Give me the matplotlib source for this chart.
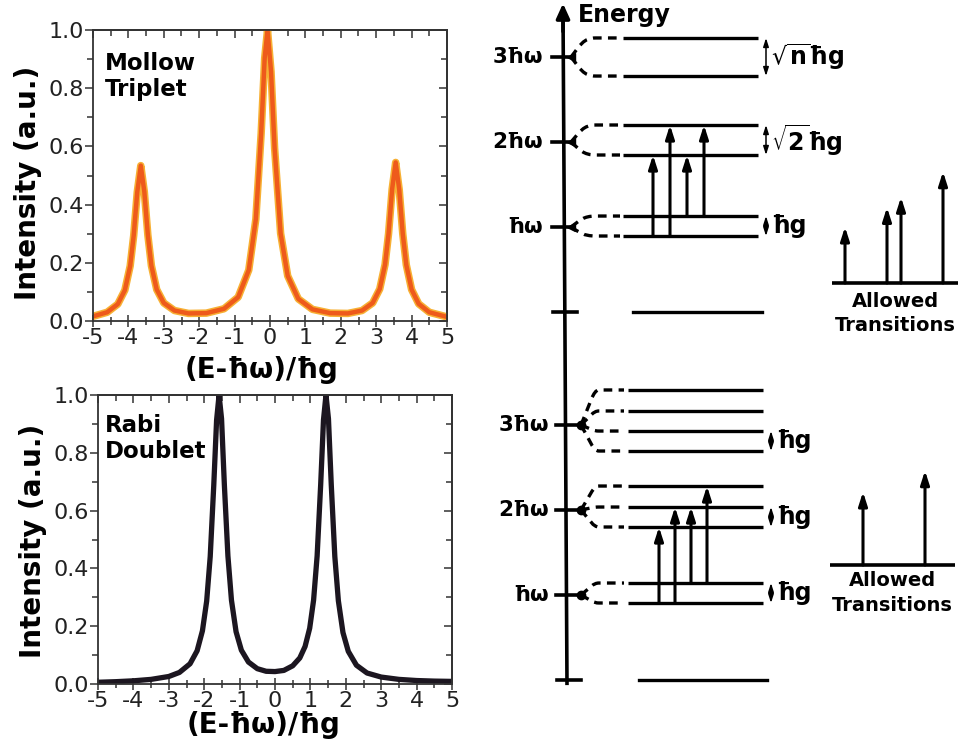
import matplotlib
matplotlib.use("Agg")
import matplotlib.pyplot as plt
from matplotlib.path import Path
from matplotlib.patches import PathPatch
from matplotlib.ticker import MultipleLocator, FormatStrFormatter

plt.rcParams['font.family'] = ['DejaVu Sans']
plt.rcParams['mathtext.fontset'] = 'dejavusans'
plt.rcParams['axes.unicode_minus'] = False

# ---------------- spectra ----------------
mollow_x = [-5.0, -4.6, -4.3, -4.1, -3.95, -3.85, -3.75, -3.65, -3.55, -3.45, -3.35,
            -3.2, -3.0, -2.7, -2.3, -1.8, -1.3, -0.9, -0.6, -0.4, -0.25, -0.15, -0.07,
            0.03, 0.13, 0.3, 0.5, 0.8, 1.2, 1.7, 2.2, 2.6, 2.9, 3.1, 3.25, 3.35, 3.45,
            3.55, 3.65, 3.75, 3.85, 4.0, 4.2, 4.5, 5.0]
mollow_y = [0.016, 0.030, 0.058, 0.106, 0.189, 0.294, 0.443, 0.534, 0.444, 0.295, 0.190,
            0.108, 0.062, 0.036, 0.026, 0.027, 0.042, 0.082, 0.175, 0.350, 0.644, 0.904, 1.0,
            0.856, 0.594, 0.301, 0.155, 0.076, 0.040, 0.027, 0.026, 0.036, 0.062, 0.110,
            0.194, 0.301, 0.453, 0.545, 0.452, 0.300, 0.193, 0.108, 0.059, 0.030, 0.014]

rabi_x = [-5.0, -4.5, -4.0, -3.5, -3.0, -2.7, -2.4, -2.2, -2.05, -1.93, -1.83, -1.73,
          -1.65, -1.58, -1.51, -1.43, -1.33, -1.23, -1.1, -0.95, -0.75, -0.5, -0.25, 0.0,
          0.25, 0.5, 0.7, 0.85, 0.98, 1.09, 1.19, 1.29, 1.37, 1.44, 1.51, 1.59, 1.69,
          1.79, 1.92, 2.07, 2.3, 2.6, 3.0, 3.5, 4.0, 4.5, 5.0]
rabi_y = [0.006, 0.008, 0.011, 0.016, 0.026, 0.040, 0.070, 0.115, 0.184, 0.287, 0.441,
          0.687, 0.913, 1.0, 0.918, 0.688, 0.443, 0.290, 0.181, 0.117, 0.076, 0.053,
          0.044, 0.043, 0.047, 0.063, 0.090, 0.130, 0.193, 0.290, 0.443, 0.689, 0.914,
          1.0, 0.918, 0.688, 0.441, 0.288, 0.178, 0.113, 0.065, 0.038, 0.024, 0.016,
          0.012, 0.010, 0.009]

x_ticks = [-5, -4, -3, -2, -1, 0, 1, 2, 3, 4, 5]
y_ticks = [0.0, 0.2, 0.4, 0.6, 0.8, 1.0]
x_label = "(E-ħω)/ħg"
y_label = "Intensity (a.u.)"
top_title = "Mollow\nTriplet"
bot_title = "Rabi\nDoublet"

# ---------------- energy ladders (units of ħω) ----------------
manifolds = [1, 2, 3]
manifold_labels = ["ħω", "2ħω", "3ħω"]

top_levels = [[0.894, 1.129], [1.847, 2.200], [2.776, 3.224]]
top_split_pairs = [[0.894, 1.129], [1.847, 2.200], [2.776, 3.224]]
top_split_labels = ["ħg", r"$\sqrt{\mathbf{2}}$ħg", r"$\sqrt{\mathbf{n}}$ħg"]
top_trans_from = [0.894, 0.894, 1.129, 1.129]
top_trans_to = [1.847, 2.200, 1.847, 2.200]
top_allowed_pos = [845, 887, 901, 943]
top_allowed_h = [0.66, 0.89, 1.01, 1.31]
top_allowed_base = 0.341

bot_levels = [[0.906, 1.141], [1.800, 2.035, 2.282], [2.694, 2.929, 3.165, 3.412]]
bot_split_pairs = [[0.906, 1.141], [1.800, 2.035], [2.694, 2.929]]
bot_split_labels = ["ħg", "ħg", "ħg"]
bot_trans_from = [0.906, 0.906, 1.141, 1.141]
bot_trans_to = [1.800, 2.035, 2.035, 2.282]
bot_allowed_pos = [863, 925]
bot_allowed_h = [0.86, 1.11]
bot_allowed_base = 1.353

# ---------------- figure ----------------
W, H = 965, 742
fig = plt.figure(figsize=(W / 100, H / 100), dpi=100)


def rect(l, t, r, b):
    return [l / W, 1 - b / H, (r - l) / W, (b - t) / H]


TICKC = '#333333'


def style_spec(ax):
    ax.set_xlim(-5, 5)
    ax.set_ylim(0, 1.0)
    ax.set_xticks(x_ticks)
    ax.set_yticks(y_ticks)
    ax.xaxis.set_minor_locator(MultipleLocator(0.5))
    ax.yaxis.set_minor_locator(MultipleLocator(0.1))
    ax.yaxis.set_major_formatter(FormatStrFormatter('%.1f'))
    ax.tick_params(axis='y', which='both', direction='out', labelsize=16, pad=0.5,
                   width=1.1, color=TICKC, labelcolor='#222222')
    ax.tick_params(axis='y', which='major', length=6)
    ax.tick_params(axis='y', which='minor', length=4)
    ax.tick_params(axis='x', which='both', direction='inout', labelsize=16, pad=0.5,
                   width=1.1, color=TICKC, labelcolor='#222222')
    ax.tick_params(axis='x', which='major', length=9)
    ax.tick_params(axis='x', which='minor', length=6)
    for s in ax.spines.values():
        s.set_linewidth(1.3)
        s.set_color(TICKC)
    sx = ax.secondary_xaxis('top')
    sx.set_xticks(x_ticks)
    sx.xaxis.set_minor_locator(MultipleLocator(0.5))
    sx.tick_params(axis='x', which='both', direction='in', labeltop=False,
                   width=1.1, color=TICKC)
    sx.tick_params(axis='x', which='major', length=6)
    sx.tick_params(axis='x', which='minor', length=4)
    sx.spines['top'].set_linewidth(1.3)
    sx.spines['top'].set_color(TICKC)
    sy = ax.secondary_yaxis('right')
    sy.set_yticks(y_ticks)
    sy.yaxis.set_minor_locator(MultipleLocator(0.1))
    sy.tick_params(axis='y', which='both', direction='in', labelright=False,
                   width=1.1, color=TICKC)
    sy.tick_params(axis='y', which='major', length=6)
    sy.tick_params(axis='y', which='minor', length=4)
    sy.spines['right'].set_linewidth(1.3)
    sy.spines['right'].set_color(TICKC)


ax1 = fig.add_axes(rect(93, 30, 447, 321))
style_spec(ax1)
ax1.plot(mollow_x, mollow_y, color='#F7B034', lw=5.4, solid_joinstyle='round')
ax1.plot(mollow_x, mollow_y, color='#EE5A1B', lw=3.2, solid_joinstyle='round')
ax1.text(0.034, 0.925, top_title, transform=ax1.transAxes, ha='left', va='top',
         fontsize=16.5, fontweight='bold', linespacing=1.2)
ax1.set_xlabel(x_label, fontsize=20, fontweight='bold')
ax1.xaxis.set_label_coords(0.476, -0.12)
ax1.set_ylabel(y_label, fontsize=20, fontweight='bold')
ax1.yaxis.set_label_coords(-0.145, 0.476)

ax2 = fig.add_axes(rect(98, 395, 452, 684))
style_spec(ax2)
ax2.plot(rabi_x, rabi_y, color='#1C1620', lw=3.8, solid_joinstyle='round')
ax2.text(0.02, 0.935, bot_title, transform=ax2.transAxes, ha='left', va='top',
         fontsize=16.5, fontweight='bold', linespacing=1.2)
ax2.set_xlabel(x_label, fontsize=20, fontweight='bold')
ax2.xaxis.set_label_coords(0.469, -0.095)
ax2.set_ylabel(y_label, fontsize=20, fontweight='bold')
ax2.yaxis.set_label_coords(-0.145, 0.495)

# ---------------- ladder diagrams ----------------
LW = 2.4
arrow_kw = dict(arrowstyle='-|>,head_length=0.5,head_width=0.16', lw=2.2,
                color='black', mutation_scale=16, shrinkA=0, shrinkB=0)
dbl_kw = dict(arrowstyle='<|-|>,head_length=0.5,head_width=0.16', lw=1.1,
              color='black', mutation_scale=10, shrinkA=0, shrinkB=0)


def draw_ladder(ax, levels, split_pairs, split_labels, t_from, t_to,
                allowed_pos, allowed_h, allowed_base, g):
    ax.set_axis_off()
    # energy axis
    ax.plot([g['axx0'], g['axx1']], [g['axy0'], g['axy1']], color='black', lw=2.6,
            solid_capstyle='butt')
    # ticks
    for n, lab in zip(manifolds, manifold_labels):
        ax.plot([g['tick0'], g['junc']], [n, n], color='black', lw=2.6)
        ax.text(g['labx'], n, lab, ha='right', va='center', fontsize=15.5,
                fontweight='bold')
    ax.plot([g['tick0'] + 1, g['tick0'] + 25], [0, 0], color='black', lw=2.6)
    ax.plot([g['gnd0'], g['gnd1']], [0, 0], color='black', lw=LW)
    # levels with dashed connectors
    for n, lv in zip(manifolds, levels):
        ax.plot([g['junc']], [n], marker=g['marker'], ms=g['ms'], color='black')
        for e in lv:
            verts = [(g['junc'], n), (g['junc'] + 9, n + 0.6 * (e - n)),
                     (g['junc'] + 12, e), (g['cend'], e), (g['dend'], e)]
            codes = [Path.MOVETO, Path.CURVE4, Path.CURVE4, Path.CURVE4, Path.LINETO]
            ax.add_patch(PathPatch(Path(verts, codes), fill=False, lw=LW,
                                   linestyle=(0, (2.6, 1.9)), color='black'))
            ax.plot([g['s0'], g['s1']], [e, e], color='black', lw=LW,
                    solid_capstyle='butt')
    # splitting markers
    for (lo, hi), lab in zip(split_pairs, split_labels):
        ax.annotate('', xy=(g['dblx'], hi), xytext=(g['dblx'], lo), arrowprops=dbl_kw)
        ax.text(g['dblx'] + 5, (lo + hi) / 2, lab, ha='left', va='center',
                fontsize=17, fontweight='bold')
    # transitions
    for i, (a, b) in enumerate(zip(t_from, t_to)):
        x = g['tx0'] + i * g['tdx']
        ax.annotate('', xy=(x, b), xytext=(x, a), arrowprops=arrow_kw)
    # allowed transitions spectrum
    ax.plot([g['al0'], g['al1']], [allowed_base, allowed_base], color='black',
            lw=2.6, solid_capstyle='butt')
    for p, h in zip(allowed_pos, allowed_h):
        ax.annotate('', xy=(p, allowed_base + h), xytext=(p, allowed_base),
                    arrowprops=arrow_kw)
    ax.text((g['al0'] + g['al1']) / 2, g['t1y'], "Allowed", ha='center',
            va='center', fontsize=14, fontweight='bold')
    ax.text((g['al0'] + g['al1']) / 2, g['t2y'], "Transitions", ha='center',
            va='center', fontsize=14, fontweight='bold')


axd1 = fig.add_axes(rect(480, 0, 965, 340))
axd1.set_xlim(480, 965)
axd1.set_ylim(-28 / 85, 312 / 85)
g_top = dict(axx0=563, axx1=565, axy0=3.56, axy1=-0.33, tick0=552, junc=571,
             labx=543, gnd0=633, gnd1=762, cend=596, dend=620, s0=623, s1=758,
             marker='<', ms=6, dblx=766, tx0=653, tdx=17, al0=832, al1=958,
             t1y=0.118, t2y=-0.153)
draw_ladder(axd1, top_levels, top_split_pairs, top_split_labels, top_trans_from,
            top_trans_to, top_allowed_pos, top_allowed_h, top_allowed_base, g_top)
axd1.annotate('', xy=(563, 3.63), xytext=(563, 3.3),
              arrowprops=dict(arrowstyle='-|>,head_length=0.55,head_width=0.25',
                              lw=2.6, color='black', mutation_scale=16,
                              shrinkA=0, shrinkB=0))
axd1.text(578, 3.49, "Energy", ha='left', va='center', fontsize=17,
          fontweight='bold')

axd2 = fig.add_axes(rect(480, 340, 965, 742))
axd2.set_xlim(480, 965)
axd2.set_ylim(-62 / 85, 340 / 85)
g_bot = dict(axx0=565, axx1=567, axy0=4.0, axy1=-0.06, tick0=556, junc=581,
             labx=549, gnd0=639, gnd1=767, cend=599, dend=624, s0=628, s1=763,
             marker='o', ms=6, dblx=771, tx0=659, tdx=16, al0=830, al1=955,
             t1y=1.176, t2y=0.882)
draw_ladder(axd2, bot_levels, bot_split_pairs, bot_split_labels, bot_trans_from,
            bot_trans_to, bot_allowed_pos, bot_allowed_h, bot_allowed_base, g_bot)

fig.savefig("out.png", dpi=100)
